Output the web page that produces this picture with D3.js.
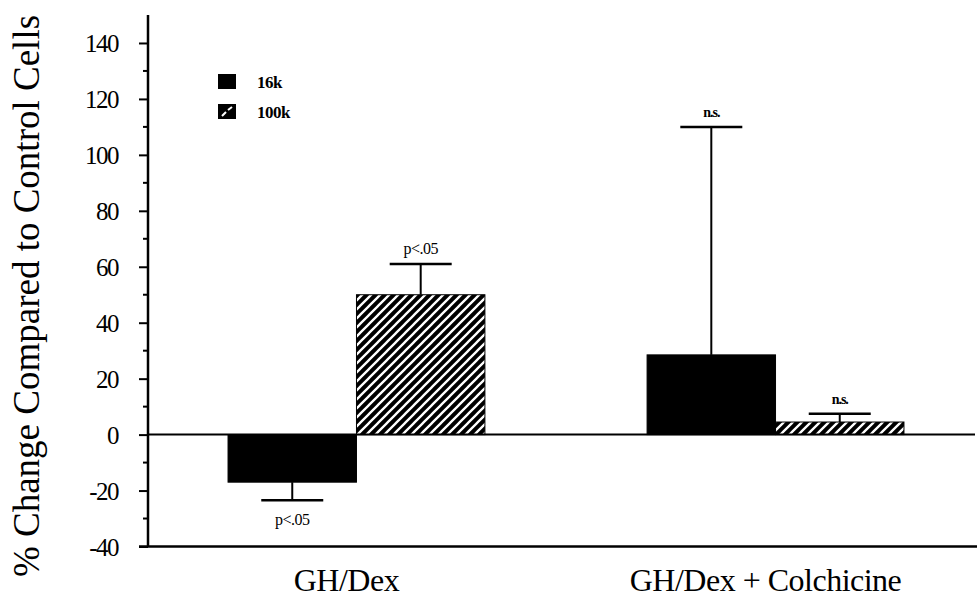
<!DOCTYPE html>
<html>
<head>
<meta charset="utf-8">
<script src="https://cdn.jsdelivr.net/npm/d3@7"></script>
<style>
  body { margin: 0; background: #fff; }
  svg { display: block; }
  text { font-family: "Liberation Serif", "Times New Roman", serif; fill: #000; }
</style>
</head>
<body>
<script>
// data
var categories = ["GH/Dex", "GH/Dex + Colchicine"];
var series = ["16k", "100k"];
var values16k = [-17, 28.5];
var values100k = [50, 4.5];
var sem16k = [6.5, 81.5];
var sem100k = [11, 3];
var notes16k = ["p<.05", "n.s."];
var notes100k = ["p<.05", "n.s."];
var yTicks = [-40, -20, 0, 20, 40, 60, 80, 100, 120, 140];

var w = 977, h = 599;
var svg = d3.select("body").append("svg")
    .attr("width", w)
    .attr("height", h);

// hatch patterns
var defs = svg.append("defs");
var hatch = defs.append("pattern")
    .attr("id", "hatch")
    .attr("patternUnits", "userSpaceOnUse")
    .attr("width", 9).attr("height", 9);
hatch.append("rect").attr("width", 9).attr("height", 9).attr("fill", "#000");
hatch.append("path")
    .attr("d", "M-2,2 L2,-2 M0,9 L9,0 M7,11 L11,7")
    .attr("stroke", "#fff").attr("stroke-width", 2.3);

var hatchLeg = defs.append("pattern")
    .attr("id", "hatchLeg")
    .attr("patternUnits", "objectBoundingBox")
    .attr("width", 1).attr("height", 1);
hatchLeg.append("rect").attr("width", 18).attr("height", 15).attr("fill", "#000");
hatchLeg.append("path")
    .attr("d", "M4,12 L8,8 M10,6 L14,3")
    .attr("stroke", "#fff").attr("stroke-width", 2);

var axisX = 148, plotTop = 15, plotBottom = 546.5;

var y = d3.scaleLinear().domain([-40, 150]).range([plotBottom, plotTop]);

var x0 = d3.scaleBand()
    .domain(categories)
    .range([axisX, 984])
    .paddingInner(0.387)
    .paddingOuter(0.191);

var x1 = d3.scaleBand()
    .domain(series)
    .range([0, x0.bandwidth()])
    .padding(0);

var rows = categories.map(function(c, i) {
    return [
        {cat: c, key: "16k", v: values16k[i], e: sem16k[i], note: notes16k[i]},
        {cat: c, key: "100k", v: values100k[i], e: sem100k[i], note: notes100k[i]}
    ];
});
var bars = [].concat.apply([], rows);

// bars
svg.selectAll("rect.bar")
    .data(bars)
    .enter()
    .append("rect")
    .attr("class", "bar")
    .attr("x", function(d){ return x0(d.cat) + x1(d.key); })
    .attr("width", x1.bandwidth())
    .attr("y", function(d){ return y(Math.max(0, d.v)); })
    .attr("height", function(d){ return Math.abs(y(d.v) - y(0)); })
    .attr("fill", function(d){ return d.key == "16k" ? "#000" : "url(#hatch)"; })
    .attr("stroke", "#000")
    .attr("stroke-width", 1);

// error bars
var capW = 62;
var err = svg.selectAll("g.err")
    .data(bars)
    .enter()
    .append("g")
    .attr("class", "err");

function cx(d){ return x0(d.cat) + x1(d.key) + x1.bandwidth()/2; }
function tip(d){ return d.v < 0 ? d.v - d.e : d.v + d.e; }

err.append("line")
    .attr("x1", cx).attr("x2", cx)
    .attr("y1", function(d){ return y(d.v); })
    .attr("y2", function(d){ return y(tip(d)); })
    .attr("stroke", "#000").attr("stroke-width", 2);

err.append("line")
    .attr("x1", function(d){ return cx(d) - capW/2; })
    .attr("x2", function(d){ return cx(d) + capW/2; })
    .attr("y1", function(d){ return y(tip(d)); })
    .attr("y2", function(d){ return y(tip(d)); })
    .attr("stroke", "#000").attr("stroke-width", 2.5);

err.append("text")
    .attr("x", cx)
    .attr("y", function(d){ return d.v < 0 ? y(tip(d)) + 25 : y(tip(d)) - 10; })
    .attr("text-anchor", "middle")
    .style("font-size", function(d){ return d.note == "n.s." ? "14px" : "16px"; })
    .style("font-weight", function(d){ return d.note == "n.s." ? "bold" : "normal"; })
    .style("letter-spacing", function(d){ return d.note == "n.s." ? "-1px" : "-0.5px"; })
    .text(function(d){ return d.note; });

// zero line
svg.append("line")
    .attr("x1", axisX).attr("x2", 975)
    .attr("y1", y(0)).attr("y2", y(0))
    .attr("stroke", "#000").attr("stroke-width", 2);

// y axis
var yAxis = d3.axisLeft(y)
    .tickValues(yTicks)
    .tickSize(9)
    .tickPadding(21)
    .tickFormat(function(d){ return String(d); });
var gy = svg.append("g")
    .attr("transform", "translate(" + axisX + ",0)")
    .call(yAxis);
gy.select(".domain").attr("stroke-width", 2.5).attr("d", "M0," + plotTop + "V" + plotBottom);
gy.selectAll(".tick line").attr("stroke-width", 2);
gy.selectAll(".tick text")
    .style("font-family", "Liberation Serif, serif")
    .style("font-size", "25px")
    .style("letter-spacing", "-1.5px")
    .attr("dy", "0.36em");

// minor ticks
var minor = d3.range(-30, 150, 20);
svg.selectAll("line.minor")
    .data(minor)
    .enter()
    .append("line")
    .attr("class", "minor")
    .attr("x1", axisX - 5).attr("x2", axisX)
    .attr("y1", function(d){ return y(d); })
    .attr("y2", function(d){ return y(d); })
    .attr("stroke", "#000").attr("stroke-width", 2);

// x axis line
svg.append("line")
    .attr("x1", 139).attr("x2", 977)
    .attr("y1", plotBottom).attr("y2", plotBottom)
    .attr("stroke", "#000").attr("stroke-width", 2.5);

// category labels
svg.selectAll("text.cat")
    .data(categories)
    .enter()
    .append("text")
    .attr("class", "cat")
    .attr("x", function(d){ return x0(d) + x0.bandwidth()/2 - 10; })
    .attr("y", 591)
    .attr("text-anchor", "middle")
    .style("font-size", "32px")
    .style("letter-spacing", "-0.5px")
    .text(function(d){ return d; });

// y label
svg.append("text")
    .attr("transform", "translate(39,296) rotate(-90)")
    .attr("text-anchor", "middle")
    .style("font-size", "37px")
    .text("% Change Compared to Control Cells");

// legend
var leg = svg.selectAll("g.leg")
    .data(series)
    .enter()
    .append("g")
    .attr("class", "leg")
    .attr("transform", function(d, i){ return "translate(218," + (74 + i*30) + ")"; });
leg.append("rect")
    .attr("width", 18).attr("height", 15)
    .attr("fill", function(d){ return d == "16k" ? "#000" : "url(#hatchLeg)"; });
leg.append("text")
    .attr("x", 39).attr("y", 14)
    .style("font-size", "17px")
    .style("font-weight", "bold")
    .style("letter-spacing", "-0.5px")
    .text(function(d){ return d; });
</script>
</body>
</html>
